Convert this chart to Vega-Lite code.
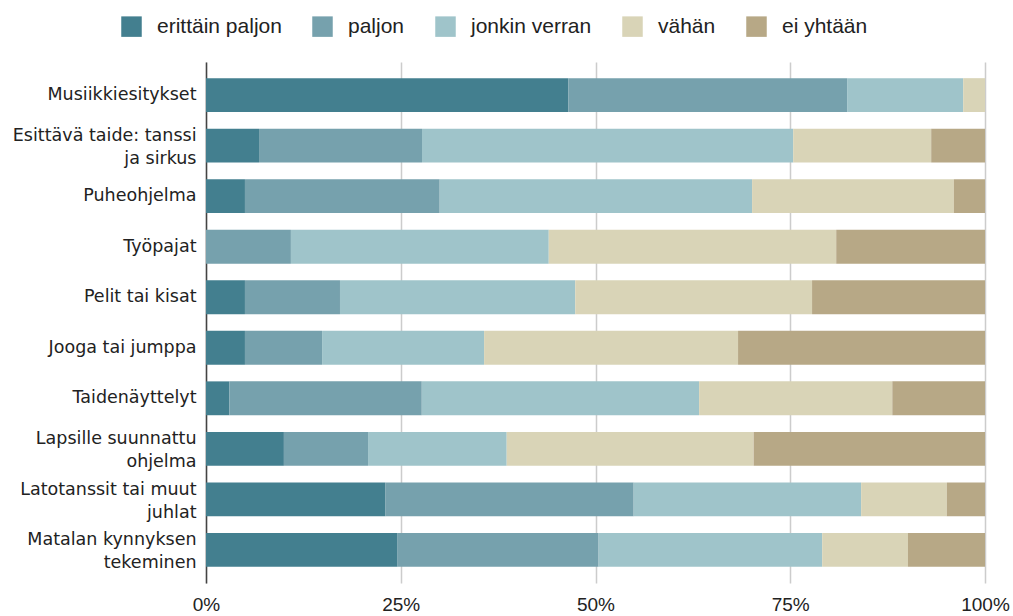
{
  "$schema": "https://vega.github.io/schema/vega-lite/v6.json",
  "width": 779,
  "height": 521,
  "autosize": {"type": "none"},
  "padding": {"left": 206, "top": 62, "right": 28, "bottom": 33},
  "background": "white",
  "data": {
    "values": [
      {"kohde": "Musiikkiesitykset", "vastaus": "erittäin paljon", "koodi": 1, "osuus": 46.5},
      {"kohde": "Musiikkiesitykset", "vastaus": "paljon", "koodi": 2, "osuus": 35.8},
      {"kohde": "Musiikkiesitykset", "vastaus": "jonkin verran", "koodi": 3, "osuus": 14.9},
      {"kohde": "Musiikkiesitykset", "vastaus": "vähän", "koodi": 4, "osuus": 2.8},
      {"kohde": "Musiikkiesitykset", "vastaus": "ei yhtään", "koodi": 5, "osuus": 0},
      {"kohde": "Esittävä taide: tanssi|ja sirkus", "vastaus": "erittäin paljon", "koodi": 1, "osuus": 6.8},
      {"kohde": "Esittävä taide: tanssi|ja sirkus", "vastaus": "paljon", "koodi": 2, "osuus": 20.9},
      {"kohde": "Esittävä taide: tanssi|ja sirkus", "vastaus": "jonkin verran", "koodi": 3, "osuus": 47.6},
      {"kohde": "Esittävä taide: tanssi|ja sirkus", "vastaus": "vähän", "koodi": 4, "osuus": 17.7},
      {"kohde": "Esittävä taide: tanssi|ja sirkus", "vastaus": "ei yhtään", "koodi": 5, "osuus": 6.9},
      {"kohde": "Puheohjelma", "vastaus": "erittäin paljon", "koodi": 1, "osuus": 5.0},
      {"kohde": "Puheohjelma", "vastaus": "paljon", "koodi": 2, "osuus": 25.0},
      {"kohde": "Puheohjelma", "vastaus": "jonkin verran", "koodi": 3, "osuus": 40.1},
      {"kohde": "Puheohjelma", "vastaus": "vähän", "koodi": 4, "osuus": 25.9},
      {"kohde": "Puheohjelma", "vastaus": "ei yhtään", "koodi": 5, "osuus": 4.0},
      {"kohde": "Työpajat", "vastaus": "erittäin paljon", "koodi": 1, "osuus": 0},
      {"kohde": "Työpajat", "vastaus": "paljon", "koodi": 2, "osuus": 10.9},
      {"kohde": "Työpajat", "vastaus": "jonkin verran", "koodi": 3, "osuus": 33.1},
      {"kohde": "Työpajat", "vastaus": "vähän", "koodi": 4, "osuus": 36.9},
      {"kohde": "Työpajat", "vastaus": "ei yhtään", "koodi": 5, "osuus": 19.1},
      {"kohde": "Pelit tai kisat", "vastaus": "erittäin paljon", "koodi": 1, "osuus": 5.0},
      {"kohde": "Pelit tai kisat", "vastaus": "paljon", "koodi": 2, "osuus": 12.2},
      {"kohde": "Pelit tai kisat", "vastaus": "jonkin verran", "koodi": 3, "osuus": 30.2},
      {"kohde": "Pelit tai kisat", "vastaus": "vähän", "koodi": 4, "osuus": 30.4},
      {"kohde": "Pelit tai kisat", "vastaus": "ei yhtään", "koodi": 5, "osuus": 22.2},
      {"kohde": "Jooga tai jumppa", "vastaus": "erittäin paljon", "koodi": 1, "osuus": 5.0},
      {"kohde": "Jooga tai jumppa", "vastaus": "paljon", "koodi": 2, "osuus": 9.9},
      {"kohde": "Jooga tai jumppa", "vastaus": "jonkin verran", "koodi": 3, "osuus": 20.8},
      {"kohde": "Jooga tai jumppa", "vastaus": "vähän", "koodi": 4, "osuus": 32.6},
      {"kohde": "Jooga tai jumppa", "vastaus": "ei yhtään", "koodi": 5, "osuus": 31.7},
      {"kohde": "Taidenäyttelyt", "vastaus": "erittäin paljon", "koodi": 1, "osuus": 3.0},
      {"kohde": "Taidenäyttelyt", "vastaus": "paljon", "koodi": 2, "osuus": 24.7},
      {"kohde": "Taidenäyttelyt", "vastaus": "jonkin verran", "koodi": 3, "osuus": 35.6},
      {"kohde": "Taidenäyttelyt", "vastaus": "vähän", "koodi": 4, "osuus": 24.8},
      {"kohde": "Taidenäyttelyt", "vastaus": "ei yhtään", "koodi": 5, "osuus": 11.9},
      {"kohde": "Lapsille suunnattu|ohjelma", "vastaus": "erittäin paljon", "koodi": 1, "osuus": 10.0},
      {"kohde": "Lapsille suunnattu|ohjelma", "vastaus": "paljon", "koodi": 2, "osuus": 10.8},
      {"kohde": "Lapsille suunnattu|ohjelma", "vastaus": "jonkin verran", "koodi": 3, "osuus": 17.8},
      {"kohde": "Lapsille suunnattu|ohjelma", "vastaus": "vähän", "koodi": 4, "osuus": 31.7},
      {"kohde": "Lapsille suunnattu|ohjelma", "vastaus": "ei yhtään", "koodi": 5, "osuus": 29.7},
      {"kohde": "Latotanssit tai muut|juhlat", "vastaus": "erittäin paljon", "koodi": 1, "osuus": 23.0},
      {"kohde": "Latotanssit tai muut|juhlat", "vastaus": "paljon", "koodi": 2, "osuus": 31.9},
      {"kohde": "Latotanssit tai muut|juhlat", "vastaus": "jonkin verran", "koodi": 3, "osuus": 29.2},
      {"kohde": "Latotanssit tai muut|juhlat", "vastaus": "vähän", "koodi": 4, "osuus": 11.0},
      {"kohde": "Latotanssit tai muut|juhlat", "vastaus": "ei yhtään", "koodi": 5, "osuus": 4.9},
      {"kohde": "Matalan kynnyksen|tekeminen", "vastaus": "erittäin paljon", "koodi": 1, "osuus": 24.6},
      {"kohde": "Matalan kynnyksen|tekeminen", "vastaus": "paljon", "koodi": 2, "osuus": 25.8},
      {"kohde": "Matalan kynnyksen|tekeminen", "vastaus": "jonkin verran", "koodi": 3, "osuus": 28.7},
      {"kohde": "Matalan kynnyksen|tekeminen", "vastaus": "vähän", "koodi": 4, "osuus": 11.0},
      {"kohde": "Matalan kynnyksen|tekeminen", "vastaus": "ei yhtään", "koodi": 5, "osuus": 9.9}
    ]
  },
  "mark": {"type": "bar"},
  "encoding": {
    "y": {
      "field": "kohde",
      "type": "nominal",
      "sort": null,
      "title": null,
      "scale": {"paddingInner": 0.33, "paddingOuter": 0.32},
      "axis": {
        "labelExpr": "split(datum.label, '|')",
        "labelFont": "DejaVu Sans",
        "labelFontSize": 17.5,
        "labelColor": "#222222",
        "labelLineHeight": 23,
        "labelPadding": 10,
        "labelOffset": {"expr": "indexof(datum.value, '|') >= 0 ? -9.5 : 0"},
        "ticks": false,
        "grid": false,
        "domain": true,
        "domainColor": "#444444",
        "domainWidth": 1.5,
        "labelLimit": 300
      }
    },
    "x": {
      "field": "osuus",
      "type": "quantitative",
      "stack": "normalize",
      "title": null,
      "scale": {"domain": [0, 1], "nice": false},
      "axis": {
        "values": [0, 0.25, 0.5, 0.75, 1],
        "format": ".0%",
        "labelFont": "Liberation Sans",
        "labelFontSize": 19,
        "labelColor": "#222222",
        "labelPadding": 12,
        "labelFlush": false,
        "ticks": false,
        "domain": false,
        "grid": true,
        "gridColor": "#cccccc",
        "gridWidth": 1.5
      }
    },
    "color": {
      "field": "vastaus",
      "type": "nominal",
      "sort": ["erittäin paljon", "paljon", "jonkin verran", "vähän", "ei yhtään"],
      "scale": {
        "domain": ["erittäin paljon", "paljon", "jonkin verran", "vähän", "ei yhtään"],
        "range": ["#437f8f", "#76a1ad", "#9fc4ca", "#d9d4b7", "#b7a886"]
      },
      "legend": {
        "title": null,
        "orient": "none",
        "direction": "horizontal",
        "legendX": -85,
        "legendY": -46,
        "symbolType": "square",
        "symbolSize": 420,
        "symbolStrokeWidth": 0,
        "symbolOpacity": 1,
        "labelFont": "Liberation Sans",
        "labelFontSize": 21,
        "labelColor": "#222222",
        "labelOffset": 15,
        "columnPadding": 30
      }
    },
    "order": {"field": "koodi", "type": "quantitative", "sort": "ascending"}
  },
  "config": {
    "view": {"stroke": null}
  }
}
